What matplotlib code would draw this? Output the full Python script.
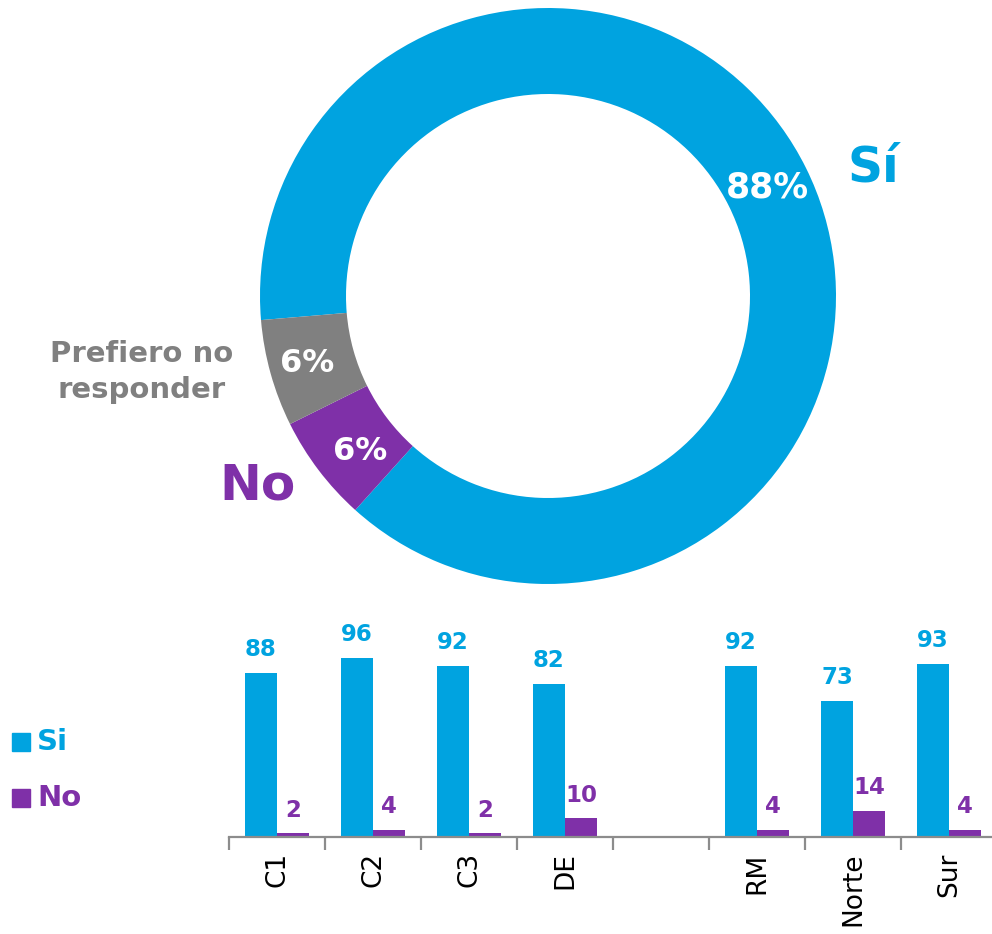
import matplotlib
matplotlib.use("Agg")
import matplotlib.pyplot as plt
from matplotlib.patches import Rectangle
import numpy as np

plt.rcParams['font.family'] = ['DejaVu Sans']

# ---- data ----
pie_labels = ["Sí", "No", "Prefiero no\nresponder"]
pie_values = [88, 6, 6]
categories = ["C1", "C2", "C3", "DE", "", "RM", "Norte", "Sur"]
si_values = [88, 96, 92, 82, None, 92, 73, 93]
no_values = [2, 4, 2, 10, None, 4, 14, 4]

BLUE = "#00A3E0"
PURPLE = "#7F30A8"
GRAY = "#808080"

W, H = 992, 934
fig = plt.figure(figsize=(W / 100, H / 100), dpi=100)

# ---- donut ----
cx, cy, R = 548, 296, 288
axp = fig.add_axes([(cx - R) / W, (H - cy - R) / H, 2 * R / W, 2 * R / H])
wedges, _ = axp.pie(pie_values, colors=[BLUE, PURPLE, GRAY], startangle=184.8,
                    counterclock=False, radius=1.0,
                    wedgeprops=dict(width=1 - 202 / 288, edgecolor='none'))
axp.set_xlim(-1, 1)
axp.set_ylim(-1, 1)
axp.set_aspect('equal')
axp.axis('off')

def d(px, py):
    return ((px - cx) / R, (cy - py) / R)

axp.text(*d(767, 188), f"{pie_values[0]}%", color='white', fontsize=25,
         fontweight='bold', ha='center', va='center')
axp.text(*d(360, 452), f"{pie_values[1]}%", color='white', fontsize=23,
         fontweight='bold', ha='center', va='center')
axp.text(*d(307, 364), f"{pie_values[2]}%", color='white', fontsize=23,
         fontweight='bold', ha='center', va='center')
axp.text(*d(873, 168), pie_labels[0], color=BLUE, fontsize=35,
         fontweight='bold', ha='center', va='center', clip_on=False)
axp.text(*d(257, 485), pie_labels[1], color=PURPLE, fontsize=36,
         fontweight='bold', ha='center', va='center', clip_on=False)
axp.text(*d(142, 372), pie_labels[2], color=GRAY, fontsize=21,
         fontweight='bold', ha='center', va='center', linespacing=1.35,
         clip_on=False)

# ---- bars ----
left_px, base_px, slot_px = 229, 837, 96
ymax = 100
px_per_unit = 1.864
axb = fig.add_axes([left_px / W, (H - base_px) / H, len(categories) * slot_px / W,
                    ymax * px_per_unit / H])
x = np.arange(len(categories))
bw = 1 / 3
idx = [i for i, v in enumerate(si_values) if v is not None]
si = [si_values[i] for i in idx]
no = [no_values[i] for i in idx]
xi = x[idx]
b1 = axb.bar(xi - bw / 2, si, width=bw, color=BLUE, edgecolor='none')
b2 = axb.bar(xi + bw / 2, no, width=bw, color=PURPLE, edgecolor='none')
for xx, v in zip(xi, si):
    axb.annotate(str(v), (xx - bw / 2, v), xytext=(0, 12), textcoords='offset points',
                 ha='center', va='baseline', color=BLUE, fontsize=16.5,
                 fontweight='bold', annotation_clip=False)
for xx, v in zip(xi, no):
    axb.annotate(str(v), (xx + bw / 2, v), xytext=(0, 12), textcoords='offset points',
                 ha='center', va='baseline', color=PURPLE, fontsize=16.5,
                 fontweight='bold', annotation_clip=False)

axb.set_xlim(-0.5, len(categories) - 0.5)
axb.set_ylim(0, ymax)
for s in ['top', 'right', 'left']:
    axb.spines[s].set_visible(False)
axb.spines['bottom'].set_color('#8C8C8C')
axb.spines['bottom'].set_linewidth(1.6)
axb.set_yticks([])
axb.set_xticks(np.arange(len(categories)) - 0.5)
axb.set_xticklabels([])
axb.tick_params(axis='x', which='major', length=9.5, width=1.6, color='#8C8C8C')
axb.set_xticks(x, minor=True)
axb.set_xticklabels(categories, minor=True, rotation=90, fontsize=19,
                    color='black', va='top', ha='center')
axb.tick_params(axis='x', which='minor', length=0, pad=11)
axb.patch.set_visible(False)

# ---- legend ----
for lab, col, yc in [("Si", BLUE, 742), ("No", PURPLE, 798)]:
    fig.add_artist(Rectangle((12 / W, (H - yc - 9) / H), 18 / W, 18 / H,
                             transform=fig.transFigure, color=col))
    fig.text(37 / W, (H - yc) / H, lab, color=col, fontsize=21,
             fontweight='bold', ha='left', va='center')

fig.savefig("out.png", dpi=100)
